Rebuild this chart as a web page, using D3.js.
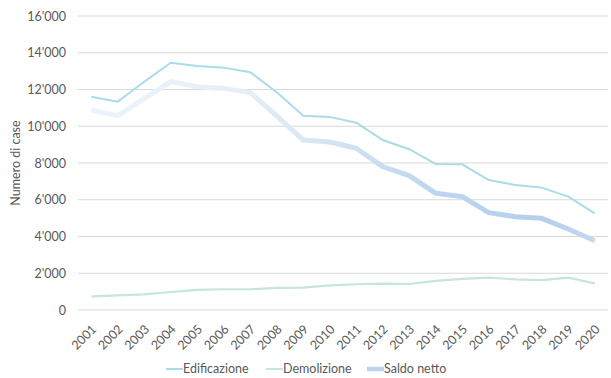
<!DOCTYPE html>
<html>
<head>
<meta charset="utf-8">
<script src="https://cdn.jsdelivr.net/npm/d3@7"></script>
<style>
  html, body { margin: 0; padding: 0; background: #fff; }
  svg text { font-family: Lato, "Liberation Sans", sans-serif; fill: #595959; }
</style>
</head>
<body>
<svg id="chart" width="611" height="378"></svg>
<script>
// Anni e serie (numero di case)
const years = ["2001","2002","2003","2004","2005","2006","2007","2008","2009","2010",
               "2011","2012","2013","2014","2015","2016","2017","2018","2019","2020"];
const edificazione = [11610, 11340, 12420, 13460, 13280, 13190, 12940, 11850, 10570, 10510,
                      10190, 9250, 8750, 7950, 7930, 7075, 6800, 6660, 6170, 5260];
const demolizione = [745, 800, 855, 980, 1090, 1130, 1130, 1200, 1215, 1340,
                     1400, 1430, 1415, 1580, 1690, 1760, 1670, 1630, 1760, 1450];
const saldoNetto = [10870, 10580, 11500, 12430, 12150, 12060, 11830, 10560, 9250, 9140,
                    8800, 7800, 7310, 6350, 6170, 5300, 5080, 4990, 4410, 3770];
const yTicks = [0, 2000, 4000, 6000, 8000, 10000, 12000, 14000, 16000];
const seriesNames = ["Edificazione", "Demolizione", "Saldo netto"];

const svg = d3.select("#chart");
const margin = { left: 78, right: 3, top: 16, bottom: 68 };
const W = 611, H = 378;

const x = d3.scaleBand().domain(years).range([margin.left, W - margin.right]);
const y = d3.scaleLinear().domain([0, 16000]).range([H - margin.bottom, margin.top]);
const cx = d => x(d) + x.bandwidth() / 2;

const fmt = v => v === 0 ? "0" : d3.format(",")(v).replace(/,/g, "'");

// Griglia orizzontale
svg.append("g")
  .selectAll("line")
  .data(yTicks)
  .join("line")
  .attr("x1", margin.left).attr("x2", W - margin.right)
  .attr("y1", d => y(d)).attr("y2", d => y(d))
  .attr("stroke", "#d9d9d9").attr("stroke-width", 1);

// Asse Y
const yAxis = svg.append("g")
  .attr("transform", `translate(${margin.left - 12},0)`)
  .call(d3.axisLeft(y).tickValues(yTicks).tickFormat(fmt).tickSize(0).tickPadding(0));
yAxis.select(".domain").remove();
yAxis.selectAll("text").style("font-size", "12.5px").attr("fill", "#595959");

// Asse X con etichette ruotate
const xAxis = svg.append("g")
  .attr("transform", `translate(0,${y(0)})`)
  .call(d3.axisBottom(x).tickSize(0).tickPadding(0));
xAxis.select(".domain").remove();
xAxis.selectAll("text")
  .style("font-size", "12.5px")
  .attr("fill", "#595959")
  .attr("text-anchor", "end")
  .attr("y", 0)
  .attr("dy", "0")
  .attr("transform", "translate(6,20) rotate(-45)");

// Titolo asse Y
svg.append("text")
  .attr("transform", `translate(20,${(y(0) + y(16000)) / 2}) rotate(-90)`)
  .attr("text-anchor", "middle")
  .style("font-size", "12.5px")
  .text("Numero di case");

// Sfumatura per la linea del saldo netto
const defs = svg.append("defs");
const grad = defs.append("linearGradient")
  .attr("id", "saldoGrad")
  .attr("gradientUnits", "userSpaceOnUse")
  .attr("x1", cx(years[0])).attr("x2", cx(years[years.length - 1]))
  .attr("y1", 0).attr("y2", 0);
[[0, "#edf3fa"], [0.3, "#e6eef8"], [0.5, "#d2e2f3"], [0.7, "#bcd4ee"], [0.9, "#b6cfec"], [1, "#c4d9f0"]]
  .forEach(([o, c]) => grad.append("stop").attr("offset", o).attr("stop-color", c));

const line = d3.line().x((d, i) => cx(years[i])).y(d => y(d));

svg.append("path").datum(demolizione)
  .attr("d", line).attr("fill", "none")
  .attr("stroke", "#c6e6da").attr("stroke-width", 2.2);

svg.append("path").datum(saldoNetto)
  .attr("d", line).attr("fill", "none")
  .attr("stroke", "url(#saldoGrad)").attr("stroke-width", 5)
  .attr("stroke-linejoin", "round");

svg.append("path").datum(edificazione)
  .attr("d", line).attr("fill", "none")
  .attr("stroke", "#a9dbe8").attr("stroke-width", 2);

// Legenda
const legendItems = [
  { name: seriesNames[0], x: 166, color: "#a9dbe8", w: 2 },
  { name: seriesNames[1], x: 266, color: "#c6e6da", w: 2 },
  { name: seriesNames[2], x: 367, color: "#bcd4ee", w: 4.5 }
];
const lg = svg.append("g").selectAll("g").data(legendItems).join("g")
  .attr("transform", d => `translate(${d.x},369)`);
lg.append("line")
  .attr("x1", 0).attr("x2", 17).attr("y1", 0).attr("y2", 0)
  .attr("stroke", d => d.color).attr("stroke-width", d => d.w);
lg.append("text")
  .attr("x", 17).attr("y", 0).attr("dy", "0.35em")
  .style("font-size", "12.5px")
  .text(d => d.name);
</script>
</body>
</html>
